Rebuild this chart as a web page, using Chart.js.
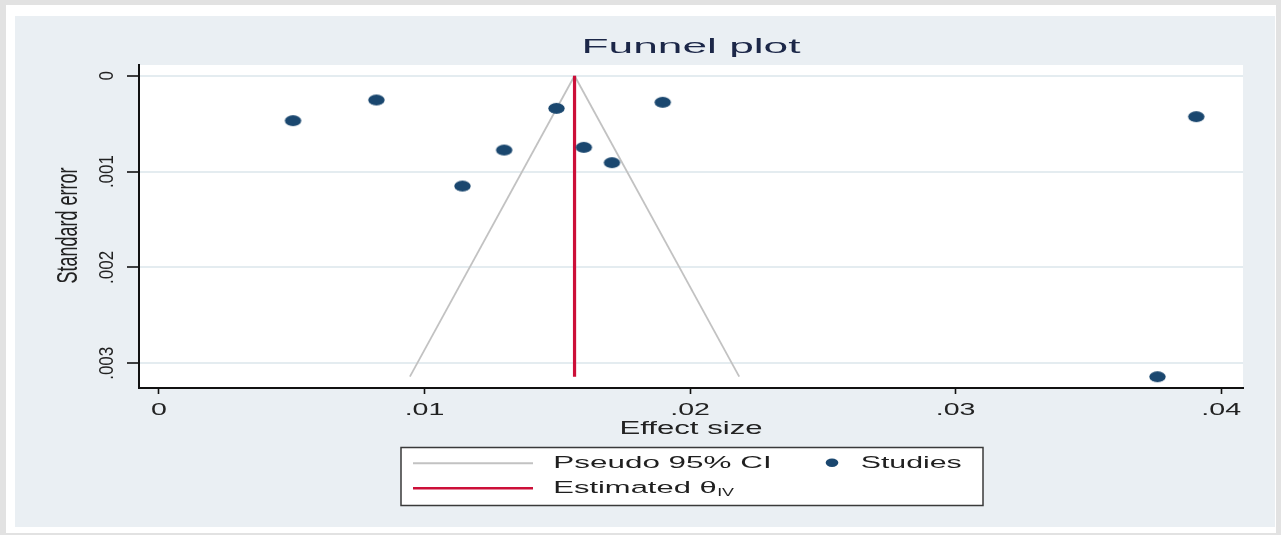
<!DOCTYPE html>
<html>
<head>
<meta charset="utf-8">
<title>Funnel plot</title>
<script src="https://cdn.jsdelivr.net/npm/chart.js@4.4.1/dist/chart.umd.min.js"></script>
<style>
  html, body { margin: 0; padding: 0; background: #e2e2e2; }
  canvas { display: block; }
</style>
</head>
<body>
<canvas id="funnel" width="1281" height="535"></canvas>
<script>
// Study effect sizes and their standard errors
const studyEffect = [0.00505, 0.00819, 0.01497, 0.01897, 0.01300, 0.01600, 0.01706, 0.01143, 0.03906, 0.03760];
const studySE     = [0.000469, 0.000253, 0.000340, 0.000277, 0.000775, 0.000747, 0.000907, 0.001151, 0.000427, 0.00314];

// Pooled estimate and pseudo 95% CI limits (apex at SE 0, base at the largest SE)
const thetaIV  = 0.01565;
const funnelSE = [0, 0.00314];
const ciLower  = [0.01565, 0.00945];
const ciUpper  = [0.01565, 0.02185];

// Axis ticks
const xTickValues = [0, 0.01, 0.02, 0.03, 0.04];
const xTickLabels = ['0', '.01', '.02', '.03', '.04'];
const yTickValues = [0, 0.001, 0.002, 0.003];
const yTickLabels = ['0', '.001', '.002', '.003'];

const FONT = '"Liberation Sans", Arial, Helvetica, sans-serif';
const NAVY = '#1a476f';
const CRANBERRY = '#cc0f38';
const CI_GRAY = '#c2c2c2';

// Flattened dot marker
function ellipseMarker(rx, ry, color) {
  const c = document.createElement('canvas');
  c.width = Math.ceil(rx * 2 + 2);
  c.height = Math.ceil(ry * 2 + 2);
  const g = c.getContext('2d');
  g.fillStyle = color;
  g.beginPath();
  g.ellipse(c.width / 2, c.height / 2, rx, ry, 0, 0, Math.PI * 2);
  g.fill();
  return c;
}
const dotMarker = ellipseMarker(8.2, 5.4, NAVY);

// Text with a horizontal stretch (optionally rotated to read bottom-to-top)
function drawText(ctx, text, x, y, opt) {
  ctx.save();
  ctx.translate(x, y);
  ctx.scale(opt.sx || 1, 1);
  if (opt.rotate) ctx.rotate(-Math.PI / 2);
  ctx.font = opt.font;
  ctx.fillStyle = opt.color || '#1f1f1f';
  ctx.textAlign = opt.align || 'center';
  ctx.textBaseline = 'alphabetic';
  ctx.fillText(text, 0, 0);
  const w = ctx.measureText(text).width;
  ctx.restore();
  return w * (opt.sx || 1);
}

const framePlugin = {
  id: 'frame',
  beforeDraw(chart) {
    const ctx = chart.ctx;
    const W = chart.width, H = chart.height;
    const a = chart.chartArea;
    ctx.save();
    ctx.fillStyle = '#e2e2e2';
    ctx.fillRect(0, 0, W, H);
    ctx.fillStyle = '#ffffff';
    ctx.fillRect(6, 5, W - 11, H - 7);
    ctx.fillStyle = '#eaeff3';
    ctx.fillRect(15, 16, 1260, 511);
    ctx.fillStyle = '#ffffff';
    ctx.fillRect(a.left, a.top, a.right - a.left, a.bottom - a.top);
    ctx.restore();
  },
  afterDraw(chart) {
    const ctx = chart.ctx;
    const a = chart.chartArea;
    const xs = chart.scales.x, ys = chart.scales.y;

    // Title
    drawText(ctx, 'Funnel plot', (a.left + a.right) / 2, 52.7,
      { font: '20.5px ' + FONT, color: '#1c2748', sx: 2.16 });

    // X tick labels and title
    xTickValues.forEach((v, i) => {
      drawText(ctx, xTickLabels[i], xs.getPixelForValue(v), 415,
        { font: '17px ' + FONT, color: '#222', sx: 1.68 });
    });
    drawText(ctx, 'Effect size', (a.left + a.right) / 2, 433.5,
      { font: '17.5px ' + FONT, color: '#222', sx: 1.78 });

    // Y tick labels (rotated) and title
    yTickValues.forEach((v, i) => {
      drawText(ctx, yTickLabels[i], 113, ys.getPixelForValue(v),
        { font: '17px ' + FONT, color: '#222', rotate: true, sx: 1.2 });
    });
    drawText(ctx, 'Standard error', 77, 225.5,
      { font: '18px ' + FONT, color: '#222', rotate: true, sx: 1.65 });

    // Legend
    ctx.save();
    ctx.fillStyle = '#ffffff';
    ctx.fillRect(401, 447.5, 582, 58);
    ctx.strokeStyle = '#3a3a3a';
    ctx.lineWidth = 1.5;
    ctx.strokeRect(401, 447.5, 582, 58);
    ctx.lineCap = 'butt';
    ctx.strokeStyle = CI_GRAY;
    ctx.lineWidth = 2;
    ctx.beginPath(); ctx.moveTo(413, 463.3); ctx.lineTo(533, 463.3); ctx.stroke();
    ctx.strokeStyle = CRANBERRY;
    ctx.lineWidth = 2.5;
    ctx.beginPath(); ctx.moveTo(413, 488.3); ctx.lineTo(533, 488.3); ctx.stroke();
    ctx.fillStyle = NAVY;
    ctx.beginPath(); ctx.ellipse(832, 462.8, 6.3, 4.2, 0, 0, Math.PI * 2); ctx.fill();
    ctx.restore();

    const lf = '16.3px ' + FONT;
    drawText(ctx, 'Pseudo 95% CI', 553.3, 468.3, { font: lf, align: 'left', sx: 1.93 });
    drawText(ctx, 'Studies', 860.7, 468.3, { font: lf, align: 'left', sx: 1.86 });
    const w = drawText(ctx, 'Estimated θ', 553.3, 493.3, { font: lf, align: 'left', sx: 1.9 });
    drawText(ctx, 'IV', 553.3 + w + 0.5, 496, { font: '10.5px ' + FONT, align: 'left', sx: 1.7 });
  }
};

const ctx = document.getElementById('funnel').getContext('2d');
new Chart(ctx, {
  type: 'scatter',
  data: {
    datasets: [
      {
        label: 'Pseudo 95% CI',
        data: funnelSE.map((se, i) => ({ x: ciLower[i], y: se })),
        showLine: true, borderColor: CI_GRAY, borderWidth: 1.8,
        pointRadius: 0, fill: false, order: 3
      },
      {
        label: 'Pseudo 95% CI (upper)',
        data: funnelSE.map((se, i) => ({ x: ciUpper[i], y: se })),
        showLine: true, borderColor: CI_GRAY, borderWidth: 1.8,
        pointRadius: 0, fill: false, order: 3
      },
      {
        label: 'Estimated θIV',
        data: funnelSE.map(se => ({ x: thetaIV, y: se })),
        showLine: true, borderColor: CRANBERRY, borderWidth: 3.2,
        pointRadius: 0, fill: false, order: 2
      },
      {
        label: 'Studies',
        data: studyEffect.map((e, i) => ({ x: e, y: studySE[i] })),
        pointStyle: dotMarker, pointRadius: 8, order: 1
      }
    ]
  },
  options: {
    responsive: false,
    animation: false,
    events: [],
    layout: { padding: { left: 0, right: 38, top: 65, bottom: 0 } },
    plugins: { legend: { display: false }, title: { display: false }, tooltip: { enabled: false } },
    scales: {
      x: {
        type: 'linear',
        position: 'bottom',
        min: -0.00075,
        max: 0.04082,
        afterBuildTicks: s => { s.ticks = xTickValues.map(v => ({ value: v })); },
        afterFit: s => { s.height = 147; },
        ticks: { display: false },
        grid: { drawOnChartArea: false, drawTicks: true, tickLength: 6, tickColor: '#111', tickWidth: 1.6 },
        border: { display: true, color: '#111', width: 2 }
      },
      y: {
        type: 'linear',
        position: 'left',
        reverse: true,
        min: -0.000112,
        max: 0.003258,
        afterBuildTicks: s => { s.ticks = yTickValues.map(v => ({ value: v })); },
        afterFit: s => { s.width = 139; },
        ticks: { display: false },
        grid: { drawOnChartArea: true, color: '#e4ecf0', lineWidth: 2, drawTicks: true,
                tickLength: 12, tickColor: '#111', tickWidth: 1.6 },
        border: { display: true, color: '#111', width: 2 }
      }
    }
  },
  plugins: [framePlugin]
});
</script>
</body>
</html>
